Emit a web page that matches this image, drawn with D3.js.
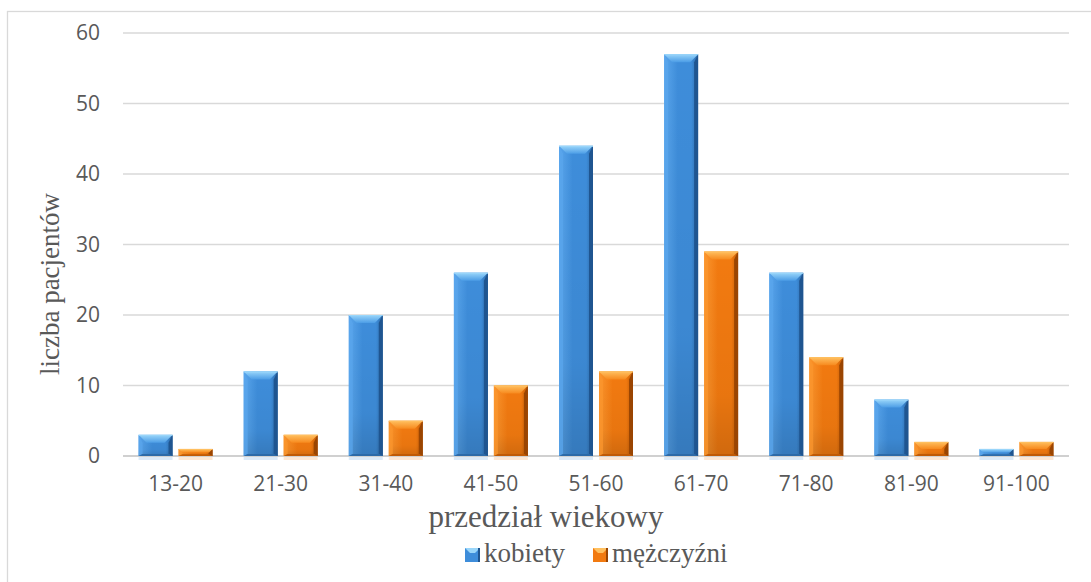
<!DOCTYPE html>
<html>
<head>
<meta charset="utf-8">
<script src="https://cdn.jsdelivr.net/npm/d3@7"></script>
<style>
  html, body { margin: 0; padding: 0; background: #fff; }
  svg { display: block; }
</style>
</head>
<body>
<svg id="chart" width="1091" height="582"></svg>
<script>
// Age groups and patient counts per sex
const categories = ["13-20", "21-30", "31-40", "41-50", "51-60", "61-70", "71-80", "81-90", "91-100"];
const seriesNames = ["kobiety", "mężczyźni"];
const kobiety = [3, 12, 20, 26, 44, 57, 26, 8, 1];
const mezczyzni = [1, 3, 5, 10, 12, 29, 14, 2, 2];
const yTicks = [0, 10, 20, 30, 40, 50, 60];
const xTitle = "przedział wiekowy";
const yTitle = "liczba pacjentów";

const seriesValues = [kobiety, mezczyzni];
const palette = {
  "kobiety":   { body: "#3e8dda", light: "#5aa6ec", top: "#9ad6fa", topLow: "#4c9de6", dark: "#1f5590", bottom: "#2c6aa8" },
  "mężczyźni": { body: "#f27a10", light: "#fb962e", top: "#ffc060", topLow: "#f78a1e", dark: "#9a4502", bottom: "#c05a05" }
};

const svg = d3.select("#chart");
const W = 1091, H = 582;
const plot = { left: 123, right: 1069, top: 33, bottom: 456 };

// outer chart frame
svg.append("rect")
  .attr("x", 7.5).attr("y", 11.5)
  .attr("width", W + 20).attr("height", H + 20)
  .attr("fill", "none").attr("stroke", "#d9d9d9").attr("stroke-width", 1.3);

const x0 = d3.scaleBand().domain(categories).range([plot.left, plot.right])
  .paddingInner(0.296).paddingOuter(0.148);
const x1 = d3.scaleBand().domain(seriesNames).range([0, x0.bandwidth()]).paddingInner(0.15);
const y = d3.scaleLinear().domain([0, 60]).range([plot.bottom, plot.top]);

// gradients
const defs = svg.append("defs");
seriesNames.forEach((s, i) => {
  const c = palette[s];
  const g = defs.append("linearGradient").attr("id", "body" + i)
    .attr("x1", "0").attr("x2", "1").attr("y1", "0").attr("y2", "0");
  g.append("stop").attr("offset", "0").attr("stop-color", c.light);
  g.append("stop").attr("offset", "0.4").attr("stop-color", c.body);
  g.append("stop").attr("offset", "0.8").attr("stop-color", c.body);
  g.append("stop").attr("offset", "1").attr("stop-color", c.bottom);
  const t = defs.append("linearGradient").attr("id", "top" + i)
    .attr("x1", "0").attr("x2", "0").attr("y1", "0").attr("y2", "1");
  t.append("stop").attr("offset", "0").attr("stop-color", c.top);
  t.append("stop").attr("offset", "1").attr("stop-color", c.topLow);
  const sh = defs.append("linearGradient").attr("id", "shade" + i)
    .attr("x1", "0").attr("x2", "0").attr("y1", "0").attr("y2", "1");
  sh.append("stop").attr("offset", "0").attr("stop-color", "#000").attr("stop-opacity", 0);
  sh.append("stop").attr("offset", "0.7").attr("stop-color", "#000").attr("stop-opacity", 0.04);
  sh.append("stop").attr("offset", "1").attr("stop-color", "#000").attr("stop-opacity", 0.14);
});

// horizontal gridlines
svg.append("g").selectAll("line").data(yTicks).join("line")
  .attr("x1", plot.left).attr("x2", plot.right)
  .attr("y1", d => y(d)).attr("y2", d => y(d))
  .attr("stroke", d => d === 0 ? "#d0d0d0" : "#d9d9d9")
  .attr("stroke-width", d => d === 0 ? 2 : 1.3);

// y tick labels
const yAxis = d3.axisLeft(y).tickValues(yTicks).tickSize(0).tickPadding(0);
const ya = svg.append("g").attr("transform", `translate(${100},0)`).call(yAxis);
ya.select(".domain").remove();
ya.selectAll("text")
  .attr("font-family", "'Open Sans', sans-serif").attr("font-size", 21)
  .attr("fill", "#595959");

// x tick labels
const xAxis = d3.axisBottom(x0).tickSize(0).tickPadding(0);
const xa = svg.append("g").attr("transform", `translate(0,${476})`).call(xAxis);
xa.select(".domain").remove();
xa.selectAll("text")
  .attr("font-family", "'Open Sans', sans-serif").attr("font-size", 21)
  .attr("fill", "#595959");

// beveled bars
const bars = [];
categories.forEach((cat, ci) => {
  seriesNames.forEach((s, si) => {
    bars.push({ cat, s, si, v: seriesValues[si][ci] });
  });
});

const barG = svg.append("g");
bars.forEach(d => {
  const c = palette[d.s];
  const bx = x0(d.cat) + x1(d.s);
  const bw = x1.bandwidth();
  const by = y(d.v);
  const base = y(0);
  const bh = base - by;
  const g = barG.append("g");
  // soft reflection under the baseline
  g.append("rect").attr("x", bx).attr("y", base + 1).attr("width", bw).attr("height", 3)
    .attr("fill", c.body).attr("opacity", 0.18);
  // body
  g.append("rect").attr("x", bx).attr("y", by).attr("width", bw).attr("height", bh)
    .attr("fill", `url(#body${d.si})`);
  g.append("rect").attr("x", bx).attr("y", by).attr("width", bw).attr("height", bh)
    .attr("fill", `url(#shade${d.si})`);
  const bev = Math.min(8, bh / 2);
  const side = Math.min(4, bw / 4);
  const bb = Math.min(2, bh / 4);
  // left bevel
  g.append("polygon")
    .attr("points", [[bx, by], [bx + side, by + bev], [bx + side, base - bb], [bx, base]].join(" "))
    .attr("fill", c.light).attr("opacity", 0.75);
  // right bevel
  g.append("polygon")
    .attr("points", [[bx + bw, by], [bx + bw - side, by + bev], [bx + bw - side, base - bb], [bx + bw, base]].join(" "))
    .attr("fill", c.dark);
  // bottom bevel
  g.append("polygon")
    .attr("points", [[bx, base], [bx + side, base - bb], [bx + bw - side, base - bb], [bx + bw, base]].join(" "))
    .attr("fill", c.bottom);
  // top bevel
  g.append("polygon")
    .attr("points", [[bx, by], [bx + bw, by], [bx + bw - bev, by + bev], [bx + bev, by + bev]].join(" "))
    .attr("fill", `url(#top${d.si})`);
  g.append("line").attr("x1", bx).attr("x2", bx + bw).attr("y1", by + 0.5).attr("y2", by + 0.5)
    .attr("stroke", c.top).attr("stroke-width", 1);
});

// axis titles
svg.append("text")
  .attr("x", 546).attr("y", 527)
  .attr("text-anchor", "middle")
  .attr("font-family", "'Liberation Serif', 'Times New Roman', serif").attr("font-size", 31)
  .attr("fill", "#595959").text(xTitle);

svg.append("text")
  .attr("transform", `translate(${59},${284}) rotate(-90)`)
  .attr("text-anchor", "middle")
  .attr("font-family", "'Liberation Serif', 'Times New Roman', serif").attr("font-size", 27)
  .attr("fill", "#595959").text(yTitle);

// legend
const legendItems = [
  { name: "kobiety", x: 465 },
  { name: "mężczyźni", x: 593 }
];
const lg = svg.append("g");
legendItems.forEach((it, i) => {
  const c = palette[it.name];
  lg.append("rect").attr("x", it.x).attr("y", 548).attr("width", 15).attr("height", 14)
    .attr("fill", c.body);
  lg.append("polygon")
    .attr("points", [[it.x, 548], [it.x + 15, 548], [it.x + 10, 553], [it.x + 5, 553]].join(" "))
    .attr("fill", c.top);
  lg.append("rect").attr("x", it.x + 13).attr("y", 548).attr("width", 2).attr("height", 14)
    .attr("fill", c.dark);
  lg.append("text").attr("x", it.x + 19).attr("y", 562)
    .attr("font-family", "'Liberation Serif', 'Times New Roman', serif").attr("font-size", 27)
    .attr("fill", "#595959").text(it.name);
});
</script>
</body>
</html>
